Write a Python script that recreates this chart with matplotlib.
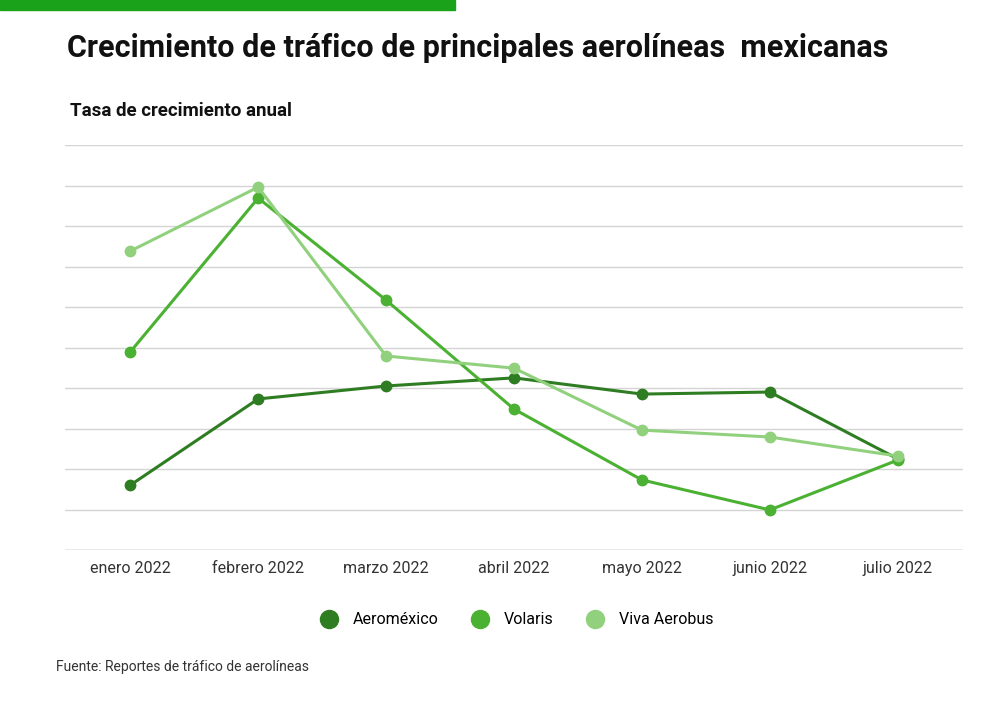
import matplotlib.pyplot as plt
from matplotlib.lines import Line2D

meses = ["enero 2022", "febrero 2022", "marzo 2022", "abril 2022",
         "mayo 2022", "junio 2022", "julio 2022"]
aeromexico = [1.6, 3.73, 4.05, 4.25, 3.85, 3.9, 2.25]
volaris = [4.89, 8.69, 6.17, 3.48, 1.73, 0.99, 2.22]
viva = [7.38, 8.96, 4.79, 4.49, 2.96, 2.79, 2.32]

series = [("Aeroméxico", aeromexico, "#2f7d22"),
          ("Volaris", volaris, "#4bb132"),
          ("Viva Aerobus", viva, "#91d17e")]

plt.rcParams['font.family'] = ['Roboto', 'DejaVu Sans']
fig = plt.figure(figsize=(10, 7.01), dpi=100)
W, H = 1000, 701

# top green strip
fig.patches.append(plt.Rectangle((0, 1 - 10 / H), 455 / W, 10 / H,
                                 transform=fig.transFigure, color="#1aa31a"))

fig.text(67 / W, 1 - 48 / H, "Crecimiento de tráfico de principales aerolíneas  mexicanas",
         fontsize=22, fontweight="bold", va="center", color="#111111")
fig.text(70 / W, 1 - 111 / H, "Tasa de crecimiento anual",
         fontsize=13.5, fontweight="bold", va="center", color="#111111")

ax = fig.add_axes([65 / W, 1 - 550 / H, (963 - 65) / W, (550 - 145) / H])
x = list(range(len(meses)))
for name, vals, c in series:
    ax.plot(x, vals, color=c, lw=2.2, marker="o", ms=7.5, label=name, zorder=3)

ax.set_ylim(0, 10)
ax.set_xlim(-0.51, 6.51)
ax.set_yticks(range(0, 11))
ax.set_yticklabels([])
ax.tick_params(axis="y", length=0)
ax.tick_params(axis="x", length=0, pad=8, labelsize=11.5, labelcolor="#333333")
ax.set_xticks(x)
ax.set_xticklabels(meses)
ax.grid(axis="y", color="#d4d4d4", lw=1)
for s in ax.spines.values():
    s.set_visible(False)
ax.axhline(0, color="#bbbbbb", lw=1)

handles = [Line2D([], [], marker="o", ls="", ms=13, color=c) for _, _, c in series]
fig.legend(handles, [n for n, _, _ in series], loc="center",
           bbox_to_anchor=(513 / W, 1 - 620 / H), ncol=3, frameon=False,
           fontsize=11.5, handletextpad=0.5, columnspacing=1.6)

fig.text(56 / W, 1 - 667 / H, "Fuente: Reportes de tráfico de aerolíneas",
         fontsize=10, va="center", color="#333333")

fig.savefig("out.png", dpi=100)
